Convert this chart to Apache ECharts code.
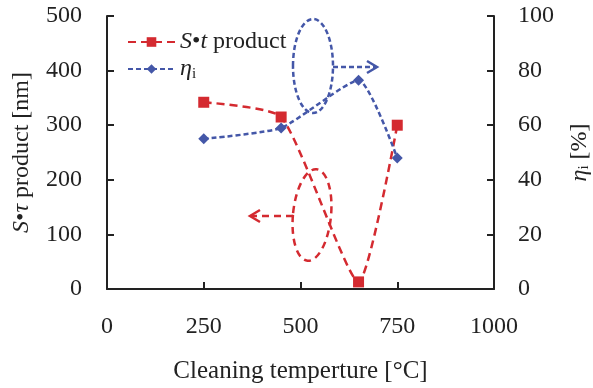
<!DOCTYPE html>
<html>
<head>
<meta charset="utf-8">
<script src="https://cdn.jsdelivr.net/npm/echarts@6/dist/echarts.min.js"></script>
<style>
  html, body { margin: 0; padding: 0; background: #fff; }
  #main { width: 593px; height: 388px; }
</style>
</head>
<body>
<div id="main"></div>
<script>
// 清洗温度
var temps = [250, 450, 650, 750];
// S·τ product [nm]
var productValues = [342, 315, 13, 300];
// η_i [%]
var etaValues = [55, 59, 76.5, 48];
var xTicks = [0, 250, 500, 750, 1000];

var font = 'Liberation Serif';
var fs = 24;
var red = '#D42A30';
var blue = '#4457A8';

function pairs(xs, ys) {
    var out = [];
    for (var i = 0; i < xs.length; i++) out.push([xs[i], ys[i]]);
    return out;
}

var richStyle = {
    i: { fontFamily: font, fontStyle: 'italic', fontSize: fs, color: '#222' },
    s: { fontFamily: font, fontSize: 15, color: '#222', verticalAlign: 'bottom', padding: [10, 0, 0, 0] },
    n: { fontFamily: font, fontSize: fs, color: '#222' }
};

var myChart = echarts.init(document.getElementById('main'));

var option = {
    animation: false,
    backgroundColor: '#fff',
    textStyle: { fontFamily: font },
    grid: { left: 107, right: 99, top: 16, bottom: 99, outerBoundsMode: 'none' },
    legend: {
        orient: 'vertical',
        left: 122,
        top: 25,
        itemWidth: 47,
        itemHeight: 12,
        itemGap: 3,
        textStyle: { fontFamily: font, fontSize: fs, color: '#222', rich: richStyle },
        formatter: function (name) {
            if (name === 'product') return '{i|S}{n|•}{i|t}{n| product}';
            return '{i|η}{s|i}';
        },
        data: ['product', 'eta']
    },
    xAxis: {
        type: 'value',
        min: 0, max: 1000, interval: 250,
        name: 'Cleaning temperture [°C]',
        nameLocation: 'middle',
        nameGap: 70,
        nameTextStyle: { fontFamily: font, fontSize: 25, color: '#222' },
        axisLine: { show: true, lineStyle: { color: '#222', width: 2 } },
        axisTick: { show: true, inside: true, length: 7, lineStyle: { color: '#222', width: 2 } },
        axisLabel: {
            margin: 26, fontFamily: font, fontSize: fs, color: '#222',
            formatter: function (v) { return String(v); }
        },
        splitLine: { show: false }
    },
    yAxis: [{
        type: 'value',
        min: 0, max: 500, interval: 100,
        name: '{i|S}{n|•}{i|τ}{n| product [nm]}',
        nameLocation: 'middle',
        nameRotate: 90,
        nameGap: 73,
        nameTextStyle: { fontFamily: font, fontSize: fs, color: '#222', rich: richStyle },
        axisLine: { show: true, lineStyle: { color: '#222', width: 2 } },
        axisTick: { show: true, inside: true, length: 7, lineStyle: { color: '#222', width: 2 } },
        axisLabel: { margin: 25, fontFamily: font, fontSize: fs, color: '#222' },
        splitLine: { show: false }
    }, {
        type: 'value',
        position: 'right',
        min: 0, max: 100, interval: 20,
        name: '{i|η}{s|i}{n| [%]}',
        nameLocation: 'middle',
        nameRotate: 90,
        nameGap: 73,
        nameTextStyle: { fontFamily: font, fontSize: fs, color: '#222', rich: richStyle },
        axisLine: { show: true, lineStyle: { color: '#222', width: 2 } },
        axisTick: { show: true, inside: true, length: 7, lineStyle: { color: '#222', width: 2 } },
        axisLabel: { margin: 24, fontFamily: font, fontSize: fs, color: '#222' },
        splitLine: { show: false }
    }],
    series: [{
        name: 'product',
        type: 'line',
        yAxisIndex: 0,
        smooth: 0.18,
        symbol: 'rect',
        symbolSize: 11,
        itemStyle: { color: red },
        lineStyle: { color: red, width: 2.5, type: [8, 5] },
        data: pairs(temps, productValues)
    }, {
        name: 'eta',
        type: 'line',
        yAxisIndex: 1,
        smooth: 0.18,
        symbol: 'diamond',
        symbolSize: 11,
        itemStyle: { color: blue },
        lineStyle: { color: blue, width: 2.5, type: [5, 3] },
        data: pairs(temps, etaValues)
    }],
    graphic: [
        // 蓝色椭圆和箭头
        { type: 'ellipse', shape: { cx: 313, cy: 66, rx: 20, ry: 47 }, style: { fill: 'none', stroke: blue, lineWidth: 2.5, lineDash: [5, 3] }, z: 10 },
        { type: 'polyline', shape: { points: [[333, 67], [376, 67]] }, style: { stroke: blue, lineWidth: 2.5, lineDash: [5, 3] }, z: 10 },
        { type: 'polyline', shape: { points: [[367, 61], [377, 67], [367, 73]] }, style: { fill: 'none', stroke: blue, lineWidth: 2.5 }, z: 10 },
        // 红色椭圆和箭头
        { type: 'ellipse', shape: { cx: 312, cy: 215, rx: 19, ry: 46 }, originX: 312, originY: 215, rotation: -0.1, style: { fill: 'none', stroke: red, lineWidth: 2.5, lineDash: [7, 5] }, z: 10 },
        { type: 'polyline', shape: { points: [[293, 216], [251, 216]] }, style: { stroke: red, lineWidth: 2.5, lineDash: [7, 5] }, z: 10 },
        { type: 'polyline', shape: { points: [[260, 210], [250, 216], [260, 222]] }, style: { fill: 'none', stroke: red, lineWidth: 2.5 }, z: 10 }
    ]
};
myChart.setOption(option);
</script>
</body>
</html>
